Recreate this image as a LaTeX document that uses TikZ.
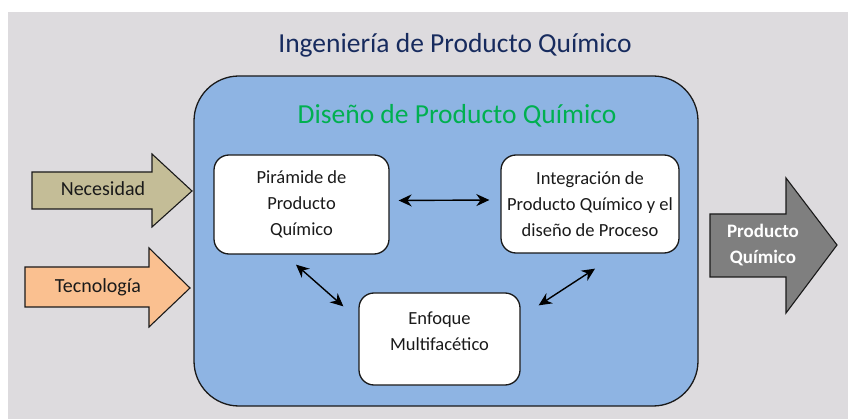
\documentclass[tikz,border=0pt]{standalone}
\usepackage{fontspec}
\setmainfont{Carlito}
\usetikzlibrary{arrows.meta,calc}
\definecolor{bgc}{HTML}{DDDBDE}
\definecolor{bluef}{HTML}{8EB4E3}
\definecolor{navy}{HTML}{172B5E}
\definecolor{greent}{HTML}{00B050}
\definecolor{tan}{HTML}{C4BD97}
\definecolor{peach}{HTML}{FAC090}
\definecolor{grayarrow}{HTML}{7F7F7F}
\definecolor{ink}{HTML}{1A1A1A}
\begin{document}
\begin{tikzpicture}[x=1pt,y=-1pt,
  outl/.style={draw=ink,line width=1.3pt},
  wbox/.style={outl,fill=white,rounded corners=15pt,inner sep=0pt},
  btxt/.style={font=\fontsize{18.5}{26}\selectfont,align=center,text=ink},
  atxt/.style={font=\fontsize{20}{24}\selectfont,text=ink},
  dbl/.style={{Stealth[length=13pt,width=12pt]}-{Stealth[length=13pt,width=12pt]},line width=1.4pt,draw=black}
]
\useasboundingbox (0,0) rectangle (848,419);
\fill[bgc] (8,12) rectangle (848,419);

% big rounded box
\node[outl,fill=bluef,rounded corners=45pt,minimum width=504pt,minimum height=330pt,inner sep=0pt] (big) at (446,241) {};

\node[text=navy,font=\fontsize{27.5}{30}\selectfont] (title) at (455,45) {Ingeniería de Producto Químico};
\node[text=greent,font=\fontsize{27.5}{30}\selectfont] (sub) at (457,116) {Diseño de Producto Químico};

% inner boxes
\node[wbox,minimum width=175pt,minimum height=99pt] (p1) at (301.5,204.5) {};
\node[btxt] (p1t) at (p1.center) {Pirámide de\\Producto\\Químico};
\node[wbox,minimum width=178pt,minimum height=98pt] (p2) at (590,204) {};
\node[btxt] (p2t) at (p2.center) {Integración de\\Producto Químico y el\\diseño de Proceso};
\node[wbox,minimum width=161pt,minimum height=92pt] (p3) at (439.5,339) {};
\node[btxt] (p3t) at (439.5,331) {Enfoque\\Multifacético};

% double arrows
\draw[dbl] ($(p1.east)+(9,-4)$) -- ($(p2.west)+(-11,-4)$);
\draw[dbl] ($(p1.south)+(-5.5,10)$) -- ($(p3.north west)+(-15,14)$);
\draw[dbl] ($(p2.south)+(5,15)$) -- ($(p3.north east)+(18,13)$);

% block arrows
\draw[outl,line width=1.1pt,fill=tan] (32,172) -- (152,172) -- (152,154) -- (192,191) -- (152,227) -- (152,209) -- (32,209) -- cycle;
\node[atxt] (nec) at (103,189) {Necesidad};
\draw[outl,line width=1.1pt,fill=peach] (25,267) -- (149,267) -- (149,248) -- (190,288) -- (149,327) -- (149,307) -- (25,307) -- cycle;
\node[atxt] (tec) at (98,287) {Tecnología};
\draw[outl,line width=1.1pt,fill=grayarrow] (710,214) -- (786,214) -- (786,178) -- (837,245) -- (786,313) -- (786,277) -- (710,277) -- cycle;
\node[font=\bfseries\fontsize{19}{26}\selectfont,text=white,align=center] (prod) at (763,245) {Producto\\Químico};
\end{tikzpicture}
\end{document}
